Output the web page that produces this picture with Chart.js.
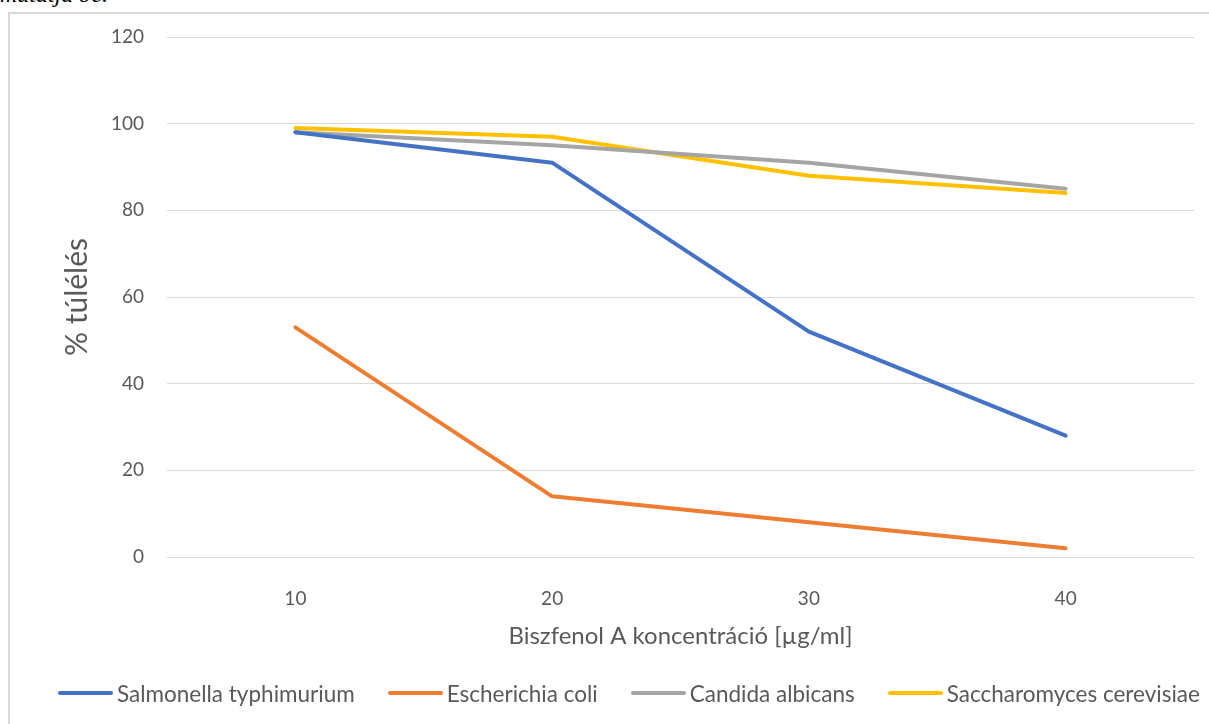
<!DOCTYPE html>
<html>
<head>
<meta charset="utf-8">
<script src="https://cdn.jsdelivr.net/npm/chart.js@4.4.1/dist/chart.umd.min.js"></script>
<style>
  html, body { margin: 0; padding: 0; background: #fff; overflow: hidden; }
  body { width: 1209px; height: 724px; position: relative; font-family: Lato, "Open Sans", sans-serif; }
  .doc-line {
    position: absolute; left: 0; top: -19px;
    font-family: "Liberation Serif", "DejaVu Serif", serif; font-style: italic;
    font-size: 24px; color: #000; white-space: nowrap;
  }
  .frame {
    position: absolute; left: 8px; top: 12px; width: 1220px; height: 740px;
    border: 2px solid #d9d9d9; box-sizing: border-box; background: #fff;
  }
  #wrap { position: absolute; left: 0; top: 0; width: 1209px; height: 724px; }
  #legend {
    position: absolute; left: 58px; top: 678px; height: 30px;
    display: flex; align-items: center; white-space: nowrap;
    font-family: Lato, sans-serif; font-size: 22.5px; color: #595959;
  }
  #legend .item { display: flex; align-items: center; margin-right: 33px; }
  #legend .swatch { width: 55px; height: 4px; border-radius: 2px; margin-right: 4px; }
</style>
</head>
<body>
<div class="doc-line">mutatja be.</div>
<div class="frame"></div>
<div id="wrap"><canvas id="c" width="1209" height="724"></canvas></div>
<div id="legend"></div>
<script>
// Biszfenol A concentrations (µg/ml) on the category axis
const concentrations = ['10', '20', '30', '40'];

// Survival (%) per organism
const seriesNames = ['Salmonella typhimurium', 'Escherichia coli', 'Candida albicans', 'Saccharomyces cerevisiae'];
const salmonella = [98, 91, 52, 28];
const ecoli = [53, 14, 8, 2];
const candida = [98, 95, 91, 85];
const saccharomyces = [99, 97, 88, 84];
const seriesColors = ['#4472C4', '#ED7D31', '#A5A5A5', '#FFC000'];

// Value axis ticks
const yTicks = [0, 20, 40, 60, 80, 100, 120];

const seriesValues = [salmonella, ecoli, candida, saccharomyces];
const datasets = seriesNames.map((name, i) => ({
  label: name,
  data: seriesValues[i],
  borderColor: seriesColors[i],
  backgroundColor: seriesColors[i],
  borderWidth: 4,
  pointRadius: 0,
  pointHoverRadius: 0,
  tension: 0,
  fill: false,
  borderCapStyle: 'round',
  borderJoinStyle: 'round'
}));

const tickColor = '#595959';
const gridColor = '#d9d9d9';

new Chart(document.getElementById('c'), {
  type: 'line',
  data: { labels: concentrations, datasets },
  options: {
    responsive: false,
    animation: false,
    events: [],
    layout: { padding: { left: 10, right: 15, top: 37, bottom: 64 } },
    plugins: { legend: { display: false }, tooltip: { enabled: false } },
    scales: {
      x: {
        type: 'category',
        offset: true,
        grid: { display: false, drawTicks: false },
        border: { display: false },
        ticks: { color: tickColor, font: { family: 'Lato', size: 19 }, padding: 30, maxRotation: 0 },
        title: {
          display: true,
          text: 'Biszfenol A koncentráció [µg/ml]',
          color: tickColor,
          font: { family: 'Lato', size: 24 },
          padding: { top: 9, bottom: 9 }
        },
        afterFit: (s) => { s.height = 103; }
      },
      y: {
        min: 0,
        max: 120,
        afterBuildTicks: (s) => { s.ticks = yTicks.map(v => ({ value: v })); },
        grid: { color: gridColor, lineWidth: 1, drawTicks: false },
        border: { display: false },
        ticks: { color: tickColor, font: { family: 'Lato', size: 19 }, padding: 23 },
        title: {
          display: true,
          text: '% túlélés',
          color: tickColor,
          font: { family: 'Lato', size: 30 },
          padding: { top: 49, bottom: 49 }
        },
        afterFit: (s) => { s.width = 157; }
      }
    }
  }
});

// Legend row built from the same series names and colours
const legend = document.getElementById('legend');
seriesNames.forEach((name, i) => {
  const item = document.createElement('div');
  item.className = 'item';
  const sw = document.createElement('span');
  sw.className = 'swatch';
  sw.style.background = seriesColors[i];
  const txt = document.createElement('span');
  txt.textContent = name;
  item.appendChild(sw);
  item.appendChild(txt);
  legend.appendChild(item);
});
</script>
</body>
</html>
